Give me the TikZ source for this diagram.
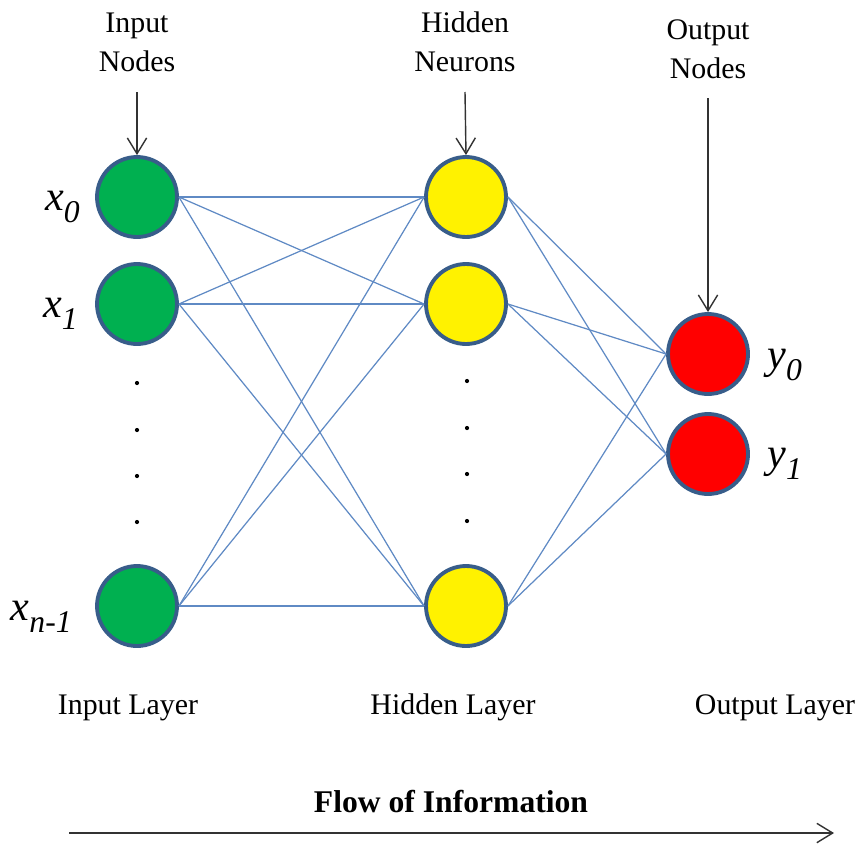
\documentclass[tikz,border=0pt]{standalone}
\usepackage{fontspec}
\setmainfont{Liberation Serif}
\usetikzlibrary{arrows.meta}
\definecolor{ringblue}{RGB}{56,93,138}
\definecolor{linkblue}{RGB}{95,138,196}
\definecolor{ingreen}{RGB}{0,176,80}
\tikzset{mnode/.style={draw=ringblue,circle,line width=2.2pt,minimum size=1.6cm,inner sep=0pt}}
\tikzset{mlink/.style={draw=linkblue,line width=0.7pt}}
\tikzset{marrow/.style={draw=black!80,line width=0.8pt,-{Straight Barb[length=9pt,width=11pt]}}}
\tikzset{mtext/.style={font=\fontsize{17}{22}\selectfont,align=center,inner sep=0pt}}
\tikzset{mvarlabel/.style={font=\fontsize{24}{24}\selectfont,inner sep=0pt}}
\newcommand{\mvar}[2]{\textit{#1}\raisebox{-0.3em}{\fontsize{18}{18}\selectfont\textit{#2}}}

\begin{document}
\begin{tikzpicture}[x=0.02cm,y=-0.02cm]
\useasboundingbox (0,0) rectangle (864,845);

\node[mnode,fill=ingreen] (in0) at (137,197) {};
\node[mnode,fill=ingreen] (in1) at (137,304) {};
\node[mnode,fill=ingreen] (inN) at (137,606) {};

\node[mnode,fill=yellow] (hid0) at (466,197) {};
\node[mnode,fill=yellow] (hid1) at (466,304) {};
\node[mnode,fill=yellow] (hidN) at (466,606) {};

\node[mnode,fill=red] (out0) at (708,354) {};
\node[mnode,fill=red] (out1) at (708,454) {};

\foreach \a in {in0,in1,inN}
  \foreach \b in {hid0,hid1,hidN}
    \draw[mlink] (\a.east) -- (\b.west);
\foreach \a in {hid0,hid1,hidN}
  \foreach \b in {out0,out1}
    \draw[mlink] (\a.east) -- (\b.west);

\foreach \y in {383,430,476,522} \fill (137,\y) circle (1.2pt);
\foreach \y in {381,428,474,521} \fill (467,\y) circle (1.2pt);

\node[mvarlabel,anchor=base east] (lx0) at (80,210) {\mvar{x}{0}};
\node[mvarlabel,anchor=base east] (lx1) at (78,317) {\mvar{x}{1}};
\node[mvarlabel,anchor=base east] (lxN) at (72,620) {\mvar{x}{n-1}};
\node[mvarlabel,anchor=base west] (ly0) at (767,368) {\mvar{y}{0}};
\node[mvarlabel,anchor=base west] (ly1) at (767,467) {\mvar{y}{1}};

\node[mtext,anchor=base] (inlab) at (137,71) {Input\\Nodes};
\node[mtext,anchor=base] (hidlab) at (465,71) {Hidden\\Neurons};
\node[mtext,anchor=base] (outlab) at (708,78) {Output\\Nodes};
\coordinate (inarr) at (137,92);
\coordinate (hidarr) at (465,92);
\coordinate (outarr) at (708,98);
\draw[marrow] (inarr) -- (in0.north);
\draw[marrow] (hidarr) -- (hid0.north);
\draw[marrow] (outarr) -- (out0.north);

\node[mtext,anchor=base] (inlayer) at (128,714) {Input Layer};
\node[mtext,anchor=base] (hidlayer) at (453,714) {Hidden Layer};
\node[mtext,anchor=base] (outlayer) at (775,714) {Output Layer};

\node[mtext,anchor=base,font=\fontsize{18}{22}\selectfont\bfseries] (flow) at (451,812) {Flow of Information};
\coordinate (fstart) at (69,833);
\coordinate (fend) at (834,833);
\draw[marrow] (fstart) -- (fend);

\end{tikzpicture}
\end{document}
